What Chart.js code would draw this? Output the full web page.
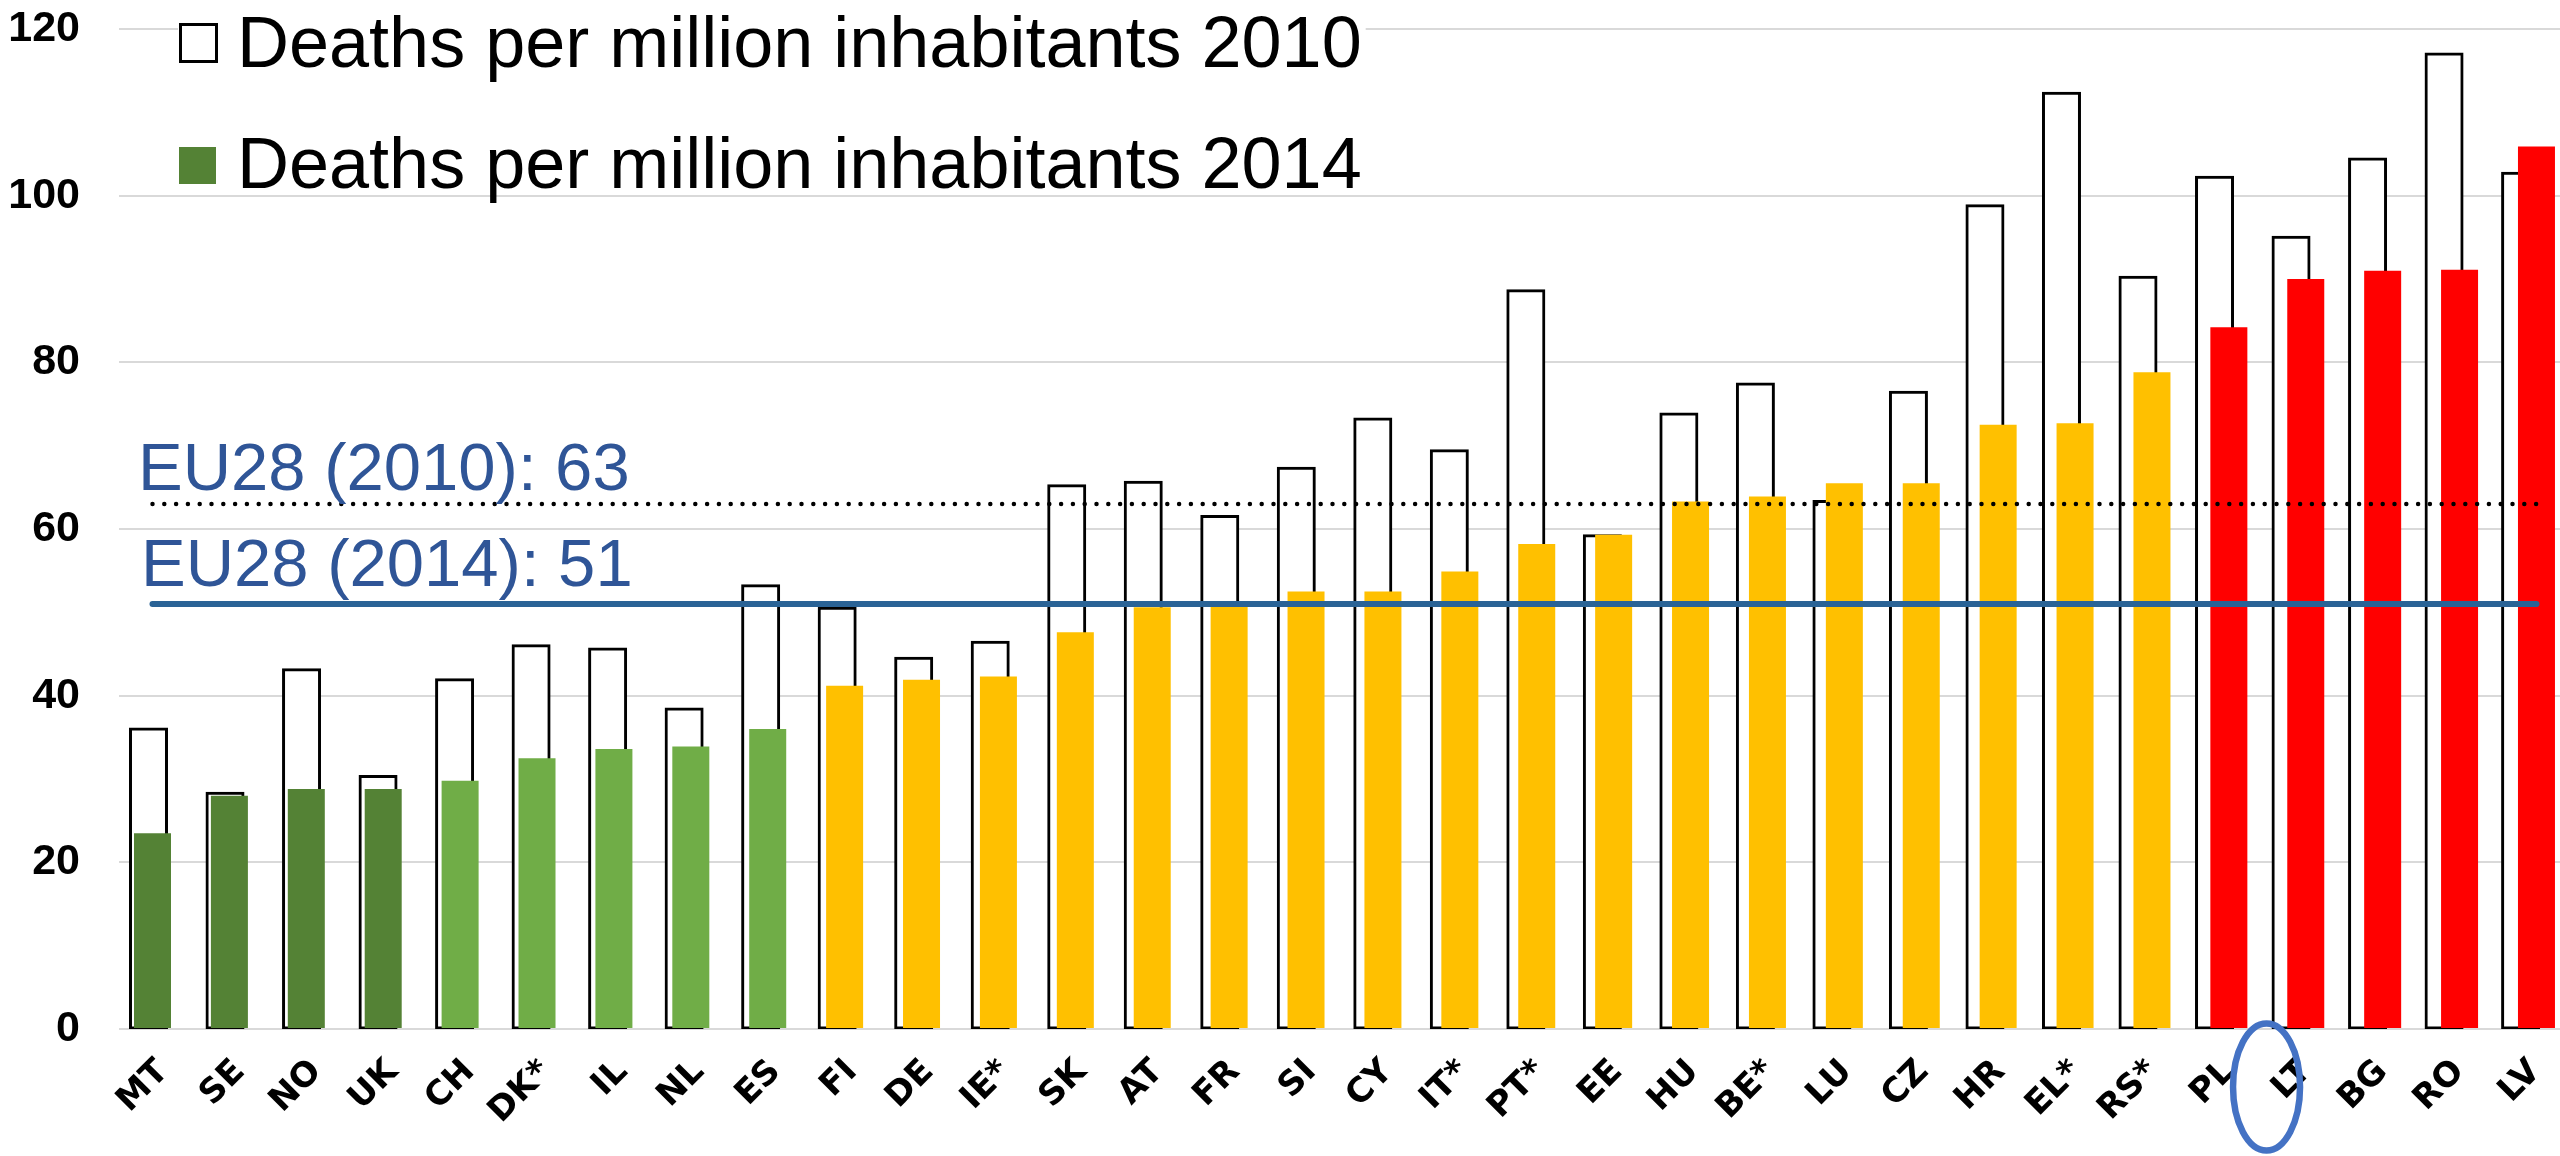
<!DOCTYPE html>
<html>
<head>
<meta charset="utf-8">
<title>Road deaths per million inhabitants, 2010 and 2014</title>
<script src="https://cdn.jsdelivr.net/npm/chart.js@4.4.1/dist/chart.umd.min.js"></script>
<style>
  html, body { margin: 0; padding: 0; background: #ffffff; overflow: hidden; }
  canvas { display: block; }
</style>
</head>
<body>
<canvas id="chart" width="2560" height="1156"></canvas>
<script>
// ---- data ----
const countries = ['MT','SE','NO','UK','CH','DK*','IL','NL','ES','FI','DE','IE*','SK','AT','FR','SI',
                   'CY','IT*','PT*','EE','HU','BE*','LU','CZ','HR','EL*','RS*','PL','LT','BG','RO','LV'];

const deaths2010 = [36.0, 28.3, 43.1, 30.3, 41.9, 46.0, 45.6, 38.4, 53.2, 50.5, 44.5, 46.4, 65.2, 65.6, 61.5, 67.3,
                    73.2, 69.4, 88.6, 59.2, 73.8, 77.4, 63.3, 76.4, 98.8, 112.3, 90.2, 102.2, 95.0, 104.4, 117.0, 102.7];

const deaths2014 = [23.5, 28.0, 28.8, 28.8, 29.8, 32.5, 33.6, 33.9, 36.0, 41.2, 41.9, 42.3, 47.6, 50.6, 51.0, 52.5,
                    52.5, 54.9, 58.2, 59.3, 63.3, 63.9, 65.5, 65.5, 72.5, 72.7, 78.8, 84.2, 90.0, 91.0, 91.1, 105.9];

// performance band of each country in 2014
const band2014 = ['top','top','top','top','good','good','good','good','good',
                  'average','average','average','average','average','average','average','average','average',
                  'average','average','average','average','average','average','average','average','average',
                  'poor','poor','poor','poor','poor'];

const eu28Average2010 = 63;
const eu28Average2014 = 51;
const eu28Labels = ['EU28 (2010): 63', 'EU28 (2014): 51'];

const yTickValues = [0, 20, 40, 60, 80, 100, 120];
const seriesLabels = ['Deaths per million inhabitants 2010', 'Deaths per million inhabitants 2014'];
const highlightedCountry = 'LT';

// ---- styling ----
const bandColors = { top: '#548235', good: '#70AD47', average: '#FFC000', poor: '#FF0000' };
const euTextColor = '#2F5597';
const euLineColor = '#2A6396';

const idx = countries.map((_, i) => i);
const lastIdx = countries.length - 1;

const overlay = {
  id: 'overlay',
  afterDraw(chart) {
    const { ctx, chartArea, scales } = chart;
    const x = scales.x, y = scales.y;
    ctx.save();

    // legend (inside the plot, top left)
    ctx.font = '72px "Liberation Sans", Arial, sans-serif';
    const textX = chartArea.left + 118;
    const w = Math.max(...seriesLabels.map(s => ctx.measureText(s).width));
    ctx.fillStyle = '#ffffff';
    ctx.fillRect(chartArea.left + 59, 0, textX - (chartArea.left + 59) + w + 4, 192);

    ctx.strokeStyle = '#000000';
    ctx.lineWidth = 3;
    ctx.fillStyle = '#ffffff';
    ctx.fillRect(chartArea.left + 61.5, 24.5, 36, 37);
    ctx.strokeRect(chartArea.left + 61.5, 24.5, 36, 37);
    ctx.fillStyle = bandColors.top;
    ctx.fillRect(chartArea.left + 60, 147, 37, 37);

    ctx.fillStyle = '#000000';
    ctx.textBaseline = 'alphabetic';
    ctx.textAlign = 'left';
    ctx.fillText(seriesLabels[0], textX, 67);
    ctx.fillText(seriesLabels[1], textX, 188);

    // EU28 average labels
    ctx.font = '67px "Liberation Sans", Arial, sans-serif';
    ctx.fillStyle = euTextColor;
    ctx.fillText(eu28Labels[0], chartArea.left + 19, y.getPixelForValue(eu28Average2010) - 14);
    ctx.fillText(eu28Labels[1], chartArea.left + 22, y.getPixelForValue(eu28Average2014) - 18);

    // highlight ring around one country label
    const hi = countries.indexOf(highlightedCountry);
    const cx = x.getPixelForValue(hi) - 24.5;
    const cy = chartArea.bottom + 58;
    ctx.beginPath();
    ctx.ellipse(cx, cy, 33.5, 63.5, 0, 0, Math.PI * 2);
    ctx.strokeStyle = '#4472C4';
    ctx.lineWidth = 6.5;
    ctx.stroke();

    ctx.restore();
  }
};

new Chart(document.getElementById('chart'), {
  data: {
    datasets: [
      {
        type: 'line',
        label: eu28Labels[0],
        data: [{ x: 0, y: eu28Average2010 }, { x: lastIdx, y: eu28Average2010 }],
        xAxisID: 'x2',
        borderColor: '#000000',
        borderWidth: 4.5,
        borderDash: [0, 11.8],
        borderCapStyle: 'round',
        pointRadius: 0,
        order: 0
      },
      {
        type: 'line',
        label: eu28Labels[1],
        data: [{ x: 0, y: eu28Average2014 }, { x: lastIdx, y: eu28Average2014 }],
        xAxisID: 'x2',
        borderColor: euLineColor,
        borderWidth: 6,
        borderCapStyle: 'round',
        pointRadius: 0,
        order: 0
      },
      {
        type: 'bar',
        label: seriesLabels[1],
        data: idx.map(i => ({ x: i, y: deaths2014[i] })),
        xAxisID: 'x2',
        backgroundColor: band2014.map(b => bandColors[b]),
        borderWidth: 0,
        barThickness: 37,
        inflateAmount: 0,
        grouped: false,
        order: 1
      },
      {
        type: 'bar',
        label: seriesLabels[0],
        data: idx.map(i => ({ x: i, y: deaths2010[i] })),
        xAxisID: 'x',
        backgroundColor: '#ffffff',
        borderColor: '#000000',
        borderWidth: 3,
        borderSkipped: false,
        barThickness: 36,
        inflateAmount: 1.5,
        grouped: false,
        order: 2
      }
    ]
  },
  options: {
    responsive: false,
    animation: false,
    devicePixelRatio: 1,
    layout: { padding: { top: 29, left: 0, right: 0, bottom: 0 } },
    plugins: { legend: { display: false }, tooltip: { enabled: false } },
    scales: {
      x: {
        type: 'linear',
        offset: false,
        min: -0.3855,
        max: 31.515,
        grid: { display: false, drawTicks: false },
        border: { display: false },
        afterFit: s => { s.height = 127; s.paddingLeft = 0; s.paddingRight = 0; },
        ticks: {
          stepSize: 1,
          includeBounds: false,
          autoSkip: false,
          minRotation: 45,
          maxRotation: 45,
          padding: 23,
          labelOffset: 15,
          color: '#000000',
          font: { family: '"DejaVu Sans", Verdana, sans-serif', weight: 'bold', size: 34 },
          callback: v => (Number.isInteger(v) && countries[v] !== undefined) ? countries[v] : ''
        }
      },
      x2: {
        type: 'linear',
        display: false,
        offset: false,
        min: -0.4356,
        max: 31.306
      },
      y: {
        min: yTickValues[0],
        max: yTickValues[yTickValues.length - 1],
        afterFit: s => { s.width = 119; },
        grid: { color: '#D9D9D9', lineWidth: 2, drawTicks: true, tickLength: 39, tickColor: 'rgba(0,0,0,0)' },
        border: { display: false },
        ticks: {
          stepSize: yTickValues[1] - yTickValues[0],
          padding: 0,
          color: '#000000',
          font: { family: '"Liberation Sans", Arial, sans-serif', weight: 'bold', size: 43 }
        }
      }
    }
  },
  plugins: [overlay]
});
</script>
</body>
</html>
